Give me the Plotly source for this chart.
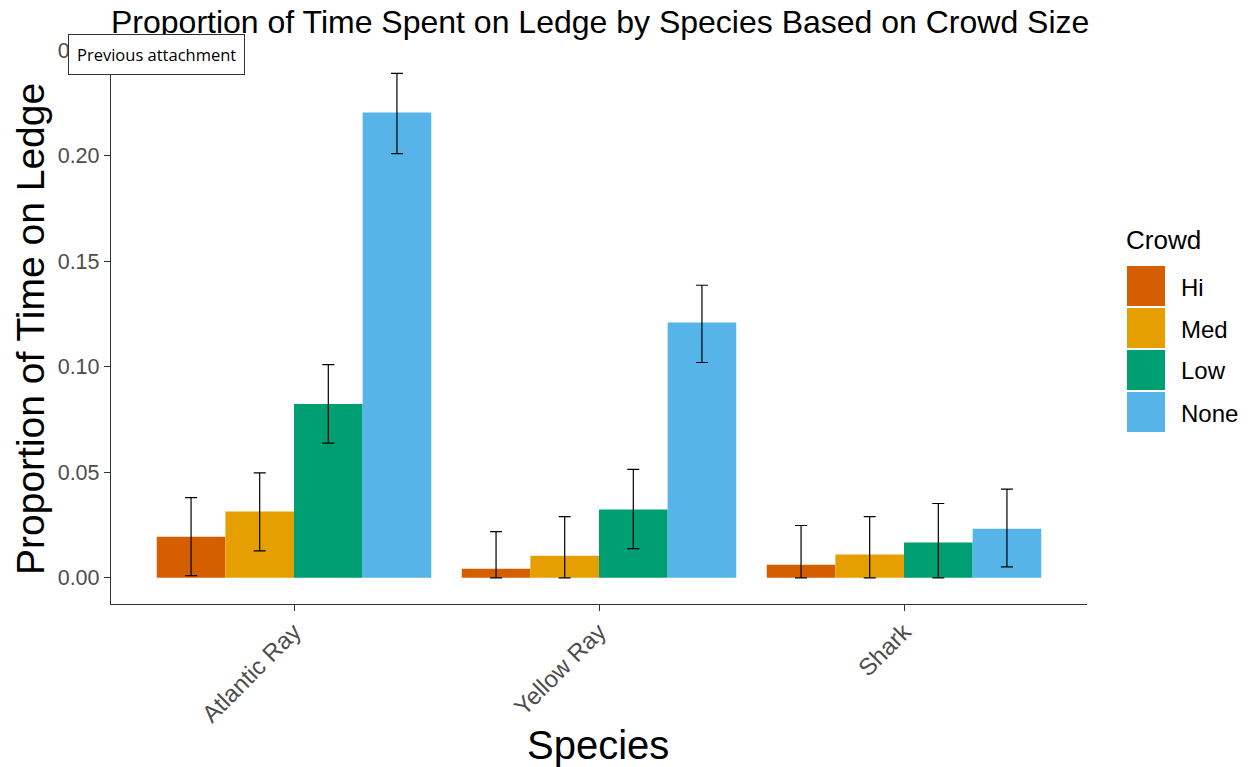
import plotly.graph_objects as go

species = ["Atlantic Ray", "Yellow Ray", "Shark"]
crowds = ["Hi", "Med", "Low", "None"]
colors = ["#D55E00", "#E69F00", "#009E73", "#56B4E9"]

means = {
    "Hi":   [0.0195, 0.0043, 0.0062],
    "Med":  [0.0314, 0.0105, 0.0110],
    "Low":  [0.0824, 0.0324, 0.0167],
    "None": [0.2205, 0.1210, 0.0233],
}
err_hi = {
    "Hi":   [0.0185, 0.0176, 0.0186],
    "Med":  [0.0183, 0.0185, 0.0180],
    "Low":  [0.0186, 0.0190, 0.0185],
    "None": [0.0185, 0.0176, 0.0187],
}
err_lo = {
    "Hi":   [0.0185, 0.0043, 0.0062],
    "Med":  [0.0186, 0.0105, 0.0110],
    "Low":  [0.0186, 0.0186, 0.0167],
    "None": [0.0195, 0.0190, 0.0181],
}

W, H = 1250, 767
L, R, T, B = 111, 1087, 48, 604

fig = go.Figure()
for c, col in zip(crowds, colors):
    fig.add_trace(go.Bar(
        x=species, y=means[c], name=c, marker=dict(color=col, line=dict(width=0)),
        error_y=dict(type="data", symmetric=False, array=err_hi[c], arrayminus=err_lo[c],
                     color="black", thickness=1.2, width=6),
        showlegend=False,
    ))

def px(x):
    return (x - L) / (R - L)

def py(y):
    return (B - y) / (B - T)

shapes = []
annotations = []
# manual legend
annotations.append(dict(x=px(1124), y=py(240), xref="paper", yref="paper", text="Crowd",
                        showarrow=False, xanchor="left", yanchor="middle",
                        font=dict(size=26, color="black")))
for i, (c, col) in enumerate(zip(crowds, colors)):
    y0 = 266 + i * 42
    shapes.append(dict(type="rect", xref="paper", yref="paper",
                       x0=px(1127), x1=px(1165), y0=py(y0 + 40), y1=py(y0),
                       fillcolor=col, line=dict(width=0)))
    annotations.append(dict(x=px(1179), y=py(y0 + 21), xref="paper", yref="paper", text=c,
                            showarrow=False, xanchor="left", yanchor="middle",
                            font=dict(size=24, color="black")))

# axis titles as annotations for exact placement
annotations.append(dict(x=px(598), y=py(745), xref="paper", yref="paper", text="Species",
                        showarrow=False, xanchor="center", yanchor="middle",
                        font=dict(size=40, color="black")))
annotations.append(dict(x=px(30), y=py(329), xref="paper", yref="paper",
                        text="Proportion of Time on Ledge", textangle=-90,
                        showarrow=False, xanchor="center", yanchor="middle",
                        font=dict(size=39, color="black")))

# screenshot tooltip
annotations.append(dict(x=px(68), y=py(34), xref="paper", yref="paper",
                        text="Previous attachment", showarrow=False,
                        xanchor="left", yanchor="top", bgcolor="white",
                        bordercolor="#333", borderwidth=1, borderpad=8,
                        font=dict(size=16.5, color="black", family="Open Sans")))

fig.update_layout(
    width=W, height=H,
    margin=dict(l=L, r=W - R, t=T, b=H - B, autoexpand=False),
    paper_bgcolor="white", plot_bgcolor="white",
    font=dict(family="Liberation Sans, Arial, sans-serif"),
    barmode="group", bargap=0.1, bargroupgap=0,
    title=dict(text="Proportion of Time Spent on Ledge by Species Based on Crowd Size",
               xref="paper", x=0, xanchor="left", yref="container", y=1 - 22 / H, yanchor="middle",
               font=dict(size=32, color="black")),
    xaxis=dict(range=[-0.6, 2.6], showline=True, linecolor="#333", linewidth=1.3,
               ticks="outside", ticklen=6, tickcolor="#333", tickangle=-45,
               tickfont=dict(size=24, color="#4D4D4D"), automargin=False,
               ticklabelstandoff=-3,
               showgrid=False, zeroline=False),
    yaxis=dict(range=[-0.0124, 0.251], showline=True, linecolor="#333", linewidth=1.3,
               ticks="outside", ticklen=6, tickcolor="#333",
               tickvals=[0, 0.05, 0.10, 0.15, 0.20, 0.25], tickformat=".2f",
               tickfont=dict(size=21.5, color="#4D4D4D"), automargin=False,
               showgrid=False, zeroline=False),
    shapes=shapes, annotations=annotations,
)

fig.write_html("out.html", post_script="document.body.style.margin='0';",
               config={"displayModeBar": False})
